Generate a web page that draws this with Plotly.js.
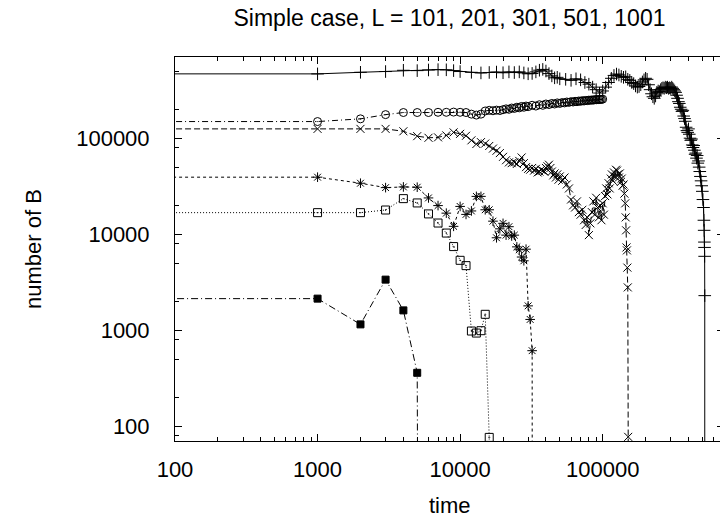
<!DOCTYPE html>
<html>
<head>
<meta charset="utf-8">
<script src="https://cdn.plot.ly/plotly-3.0.1.min.js"></script>
<style>html,body{margin:0;padding:0;overflow:hidden;background:#fff}</style>
</head>
<body>
<div id="chart" style="width:730px;height:522px"></div>
<script>
// ---- data (time 0 / value 0 are the raw values; drawn at log-axis limits) ----
const tPlus = [0,1000,2000,3000,4000,5000,6000,7000,8000,9000,10000,12000,14000,16000,18000,20000,22000,24000,26000,28000,30000,32000,34000,36000,38000,40000,42000,44000,46000,48000,50000,55000,60000,65000,70000,75000,80000,85000,90000,95000,100000,105000,110000,115000,120000,125000,130000,135000,140000,145000,150000,155000,160000,165000,170000,175000,180000,185000,190000,195000,200000,205000,210000,215000,220000,225000,230000,235000,240000,245000,250000,255000,260000,265000,270000,275000,280000,285000,290000,295000,300000,305000,310000,315000,320000,325000,330000,335000,340000,345000,350000,355000,360000,365000,370000,375000,380000,385000,390000,395000,400000,405000,410000,415000,420000,425000,430000,435000,440000,445000,450000,455000,460000,465000,470000,475000,480000,485000,490000,495000,500000,505000,510000,513000,515000,517000,518000,519000,520000,521000];
const vPlus = [473000,467000,485000,494000,509000,505000,513000,517000,515000,505000,494000,485000,478000,483000,488000,480000,490000,482000,490000,478000,468000,472000,490000,510000,520000,500000,470000,445000,425000,430000,415000,410000,400000,415000,405000,380000,365000,340000,320000,295000,310000,340000,380000,420000,450000,465000,455000,440000,430000,435000,410000,400000,380000,370000,350000,340000,345000,360000,385000,405000,420000,410000,360000,320000,290000,270000,260000,275000,300000,310000,305000,320000,330000,335000,330000,340000,335000,340000,330000,335000,330000,340000,330000,320000,310000,300000,280000,260000,240000,230000,210000,200000,190000,195000,170000,160000,150000,130000,120000,115000,125000,110000,100000,95000,98000,85000,80000,84000,75000,68000,70000,62000,66000,55000,58000,50000,45000,40000,36000,32000,28000,23000,19000,14000,11000,8300,7300,5900,2300,0];

const tCirc = [0,1000,2000,3000,4000,5000,6000,7000,8000,9000,10000,11000,12000,13000,14000,15000,16000,17000,18000,19000,20000,21000,22000,23000,24000,25000,26000,27000,28000,29000,30000,32000,34000,36000,38000,40000,42000,44000,46000,48000,50000,52000,54000,56000,58000,60000,62000,64000,66000,68000,70000,72000,74000,76000,78000,80000,82000,84000,86000,88000,90000,92000,94000,96000,98000,100000];
const vCirc = [149000,149000,159000,176000,185000,185000,185000,186000,186000,187000,186000,185000,178000,174000,178000,192000,195000,193000,196000,194000,198000,202000,200000,206000,204000,210000,207000,214000,210000,216000,213000,220000,216000,223000,220000,227000,224000,230000,227000,233000,230000,235000,233000,238000,236000,240000,238000,242000,240000,244000,242000,246000,244000,247000,246000,249000,248000,250000,249000,252000,251000,253000,252000,254000,253000,255000];

const tCross = [0,1000,2000,3000,4000,5000,6000,7000,8000,9000,10000,11000,12000,13000,14000,15000,16000,17000,18000,19000,20000,21000,22000,23000,24000,25000,26000,27000,28000,29000,30000,31000,32000,33000,34000,35000,36000,37000,38000,39000,40000,41000,42000,43000,44000,45000,46000,47000,48000,49000,50000,52000,54000,56000,58000,60000,62000,64000,66000,68000,70000,72000,74000,76000,78000,80000,82000,84000,86000,88000,90000,92000,94000,96000,98000,100000,102000,104000,106000,108000,110000,112000,114000,116000,118000,120000,122000,124000,126000,128000,130000,132000,134000,136000,138000,140000,142000,144000,145000,146000,147000,148000,149000,150000,151000,152000];
const vCross = [125000,125000,125000,125000,118000,105000,101000,102000,107000,115000,111000,106000,95000,87000,91000,88000,83000,78000,74000,70000,64000,59000,56000,55000,56000,54000,58000,63000,55000,50000,48000,47000,49000,46000,48000,44000,45000,47000,46000,45000,49000,51000,53000,49000,45000,41000,43000,39000,42000,37000,40000,36000,39000,33000,30000,23000,20000,19000,22000,17000,16000,18000,14000,12500,15000,9800,13000,17000,22000,16000,24000,19000,15000,20000,14000,21000,16000,25000,30000,26000,34000,30000,38000,42000,36000,44000,40000,47000,46000,42000,39000,43000,35000,38000,32000,33000,26500,21000,15000,11000,7300,6800,4500,2800,78,0];

const tStar = [0,1000,2000,3000,4000,5000,6000,7000,8000,9000,10000,11000,12000,13000,14000,15000,16000,17000,18000,19000,20000,21000,22000,23000,24000,25000,26000,27000,28000,29000,30000,31000,32000,33000];
const vStar = [39300,39300,34000,30600,31100,30900,23900,19900,16600,12100,19500,16100,17500,24800,24800,18000,18000,13700,9200,11400,13000,9800,12000,9600,9800,7400,6900,5800,5300,7000,1800,1300,615,0];

const tSquare = [0,1000,2000,3000,4000,5000,6000,7000,8000,9000,10000,11000,12000,13000,14000,15000,16000,17000];
const vSquare = [16800,16800,16800,17900,23500,21200,16300,13100,10300,7450,5360,4720,985,938,993,1470,77,0];

const tFilled = [0,1000,2000,3000,4000,5000,6000];
const vFilled = [2140,2140,1155,3375,1615,362,0];

const majorTicks = [100,1000,10000,100000];
const majorTickText = ['100','1000','10000','100000'];
const titleText = 'Simple case, L = 101, 201, 301, 501, 1001';
const xTitle = 'time';
const yTitle = 'number of B';

// ---- build traces ----
const EPS = 1e-30; // zero on a log axis: drawn toward -infinity (clipped at the frame)
function pos(a){ return a.map(v => v > 0 ? v : EPS); }
function series(t, v, symbol, size, dash){
  return {
    type:'scatter', mode:'lines+markers', x:pos(t), y:pos(v),
    line:{color:'#000', width:1, dash:dash},
    marker:{symbol:symbol, size:size, color:'#000', line:{color:'#000', width:1}},
    cliponaxis:true, hoverinfo:'skip'
  };
}
const traces = [
  series(tPlus, vPlus, 'cross-thin-open', 9, 'solid'),
  series(tCirc, vCirc, 'circle-open-dot', 8, '6px,3px,1px,3px'),
  series(tCross, vCross, 'x-thin-open', 8, '6px,3px'),
  series(tStar, vStar, 'asterisk-open', 8, '3px,3px'),
  series(tSquare, vSquare, 'square-open-dot', 8, '1px,2px'),
  series(tFilled, vFilled, 'square', 7, '7px,3px,1px,3px')
];

const xMinor = [], yMinor = [];
for (let k = 2; k <= 5; k++) for (let m = 2; m <= 9; m++) xMinor.push(m*Math.pow(10,k));
for (let k = 1; k <= 5; k++) for (const m of [2,5,8]) yMinor.push(m*Math.pow(10,k));

const FONT = 'Liberation Sans, Arial, Helvetica, sans-serif';
function axis(range, minorVals){
  return {
    type:'log', range:range, tickmode:'array', tickvals:majorTicks, ticktext:majorTickText,
    ticks:'inside', ticklen:7, tickwidth:1, tickcolor:'#000',
    showline:true, linecolor:'#000', linewidth:1, mirror:'allticks',
    showgrid:false, zeroline:false, automargin:false,
    minor:{tickmode:'array', tickvals:minorVals, ticks:'inside', ticklen:4, tickwidth:1, tickcolor:'#000', showgrid:false},
    tickfont:{family:FONT, size:22, color:'#000'}
  };
}
const layout = {
  width:730, height:522,
  margin:{l:175, r:6, t:57, b:81},
  paper_bgcolor:'#fff', plot_bgcolor:'#fff',
  showlegend:false,
  font:{family:FONT, size:22, color:'#000'},
  title:{text:titleText, x:0.5, xref:'paper', xanchor:'center',
         y:1-18/522, yref:'container', yanchor:'middle', font:{family:FONT, size:23, color:'#000'}},
  xaxis:Object.assign(axis([2,5.851], xMinor), {ticklabelstandoff:9}),
  yaxis:Object.assign(axis([1.849,5.845], yMinor), {ticklabelstandoff:20}),
  annotations:[
    {text:xTitle, xref:'paper', yref:'paper', x:0.5, y:-64/384, xanchor:'center', yanchor:'middle', showarrow:false, font:{family:FONT, size:22, color:'#000'}},
    {text:yTitle, xref:'paper', yref:'paper', x:-142/549, y:0.5, xanchor:'center', yanchor:'middle', textangle:-90, showarrow:false, font:{family:FONT, size:22, color:'#000'}}
  ]
};
Plotly.newPlot('chart', traces, layout, {staticPlot:true, displayModeBar:false});
</script>
</body>
</html>
